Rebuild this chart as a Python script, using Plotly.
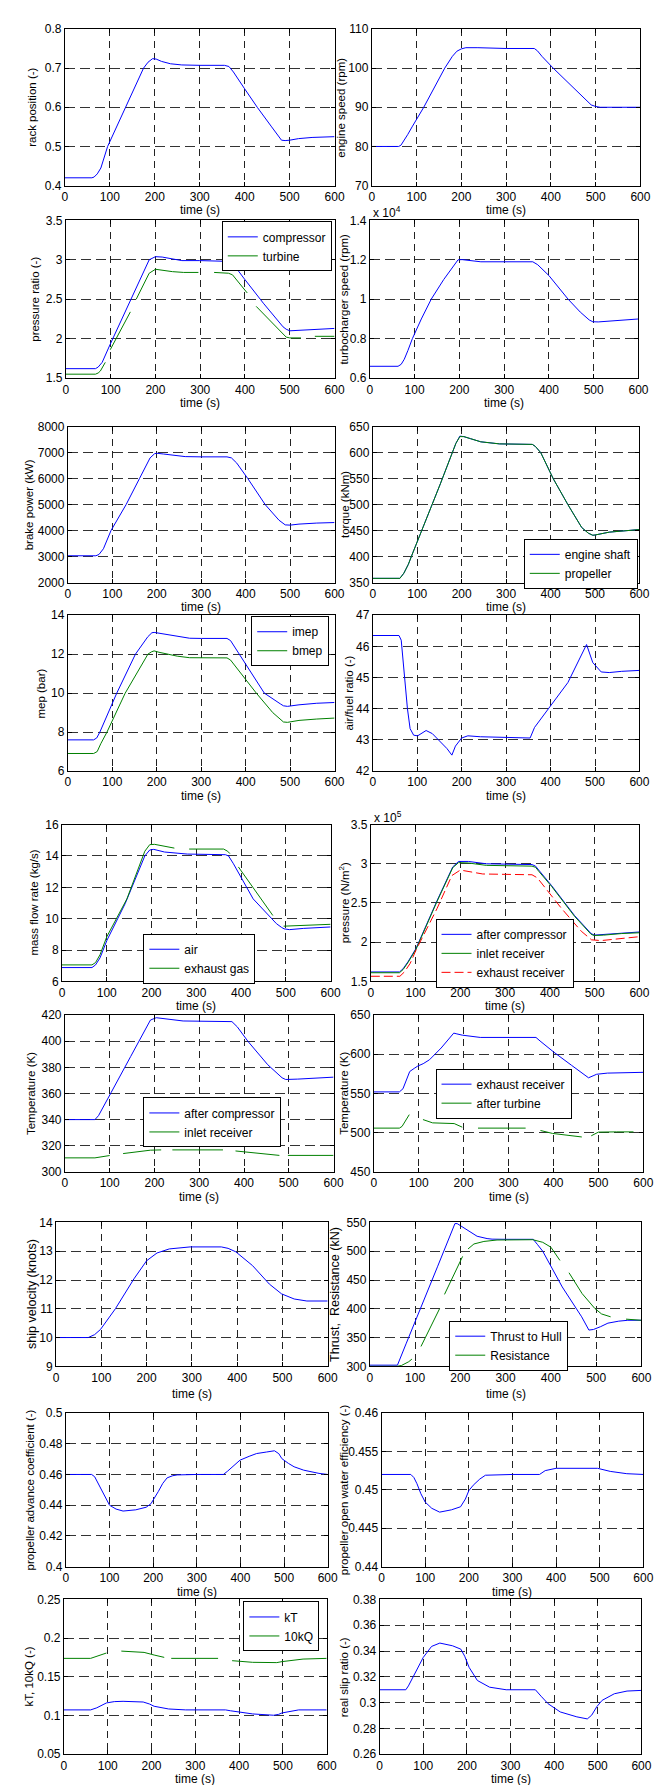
import plotly.graph_objects as go

W, H = 664, 1785
FONT = "Liberation Sans, Arial, sans-serif"
BLUE, GREEN, RED = "#0000ff", "#008000", "#ff0000"
N = None

# ---------------- data ----------------
t_rack = [0,60,65,72,80,95,135,175,185,195,203,215,235,260,300,355,365,375,400,428,460,482,490,500,520,550,600]
rack = [0.42,0.42,0.422,0.43,0.445,0.50,0.60,0.70,0.715,0.724,0.723,0.717,0.711,0.708,0.707,0.707,0.704,0.69,0.647,0.60,0.55,0.516,0.515,0.516,0.52,0.523,0.525]

t_rpm = [0,60,65,72,80,90,116,163,180,190,200,210,237,300,363,370,380,405,450,480,490,500,510,600]
rpm = [80,80,80.3,81.5,83,85,90,100,103,104.3,104.9,105.2,105.2,105,105,104.4,103,100,95,91.5,90.6,90.2,90,90]

t_prc = [0,66,72,81,99,146,186,200,215,259,299,365,372,397,441,485,492,500,520,560,600]
pr_comp = [1.62,1.62,1.64,1.70,1.93,2.51,3.0,3.04,3.035,2.99,2.99,2.98,2.96,2.77,2.45,2.15,2.12,2.10,2.105,2.12,2.13]
t_prt = [0,66,72,77,88,N,99,144,N,157,186,200,238,263,296,N,331,363,372,405,N,425,485,492,500,525,N,556,600]
pr_turb = [1.55,1.55,1.565,1.59,1.70,N,1.86,2.34,N,2.50,2.83,2.88,2.85,2.84,2.84,N,2.84,2.83,2.81,2.58,N,2.41,2.05,2.02,2.01,2.01,N,2.03,2.03]

t_tc = [0,63,70,77,85,95,115,137,165,197,206,225,248,300,364,375,400,443,470,490,498,510,530,560,600]
tc_rpm = [6600,6600,6700,6960,7400,8000,9000,10000,11000,12000,12010,11960,11900,11900,11900,11750,11200,10000,9350,8950,8860,8850,8880,8950,9000]

t_bp = [0,63,70,80,97,131,161,185,195,200,215,240,264,300,358,368,380,405,444,475,489,500,520,560,600]
brake_power = [3030,3030,3080,3300,4000,5000,6000,6800,6960,6980,6950,6890,6850,6840,6840,6800,6600,6000,5000,4400,4220,4210,4250,4290,4310]

t_tq = [0,61,70,80,90,107,132,152,177,187,196,205,220,243,285,359,366,378,406,439,470,485,495,500,532,570,600]
tq_shaft = [358,358,368,385,407,445,497,540,594,618,632,631,627,621,617,616,612,600,550,500,456,445,441,441.5,447,450,452]
tq_prop = [358,358,368,385,407,445,497,540,594,618,631,631,627,621,617,616,612,600,550,500,456,445,441,441.5,447,450,452]

t_mep = [0,58,65,72,110,152,180,189,194,205,246,274,300,358,366,386,442,478,485,494,520,560,600]
imep = [7.6,7.6,7.7,8.0,10.0,12.0,12.9,13.1,13.12,13.08,12.9,12.82,12.81,12.81,12.7,12.0,10.0,9.45,9.35,9.32,9.4,9.48,9.52]
t_bmep = [0,58,66,74,88,129,175,180,188,194,205,246,274,300,358,366,390,424,461,480,485,494,520,560,600]
bmep = [6.9,6.9,7.0,7.4,8.0,10.0,11.8,12.0,12.12,12.17,12.1,11.9,11.82,11.81,11.81,11.7,11.0,10.0,9.0,8.6,8.52,8.5,8.6,8.67,8.72]

t_afr = [0,59,64,68,73,78,84,92,101,110,120,134,150,167,178,186,200,214,242,354,364,392,439,481,495,514,532,560,600]
afr = [46.35,46.35,46.2,45.6,44.8,44.0,43.36,43.15,43.13,43.22,43.3,43.2,42.98,42.72,42.51,42.8,43.06,43.13,43.1,43.06,43.4,43.94,44.84,46.06,45.48,45.18,45.16,45.2,45.23]

t_air = [0,67,75,85,100.6,141,185,196,205,229,280,365,372,383,427,479,490,496,508,540,600]
m_air = [6.88,6.88,7.05,7.5,8.63,10.95,14.0,14.38,14.42,14.25,14.12,14.08,14.0,13.5,11.26,9.68,9.45,9.35,9.3,9.38,9.47]
t_exh = [0,67,75,85,100,145,185,196,207,251,N,284,361,370,375,N,394,471,N,495,540,600]
m_exh = [7.05,7.05,7.2,7.7,8.84,11.26,14.3,14.72,14.74,14.5,N,14.44,14.44,14.3,14.15,N,13.3,10.2,N,9.52,9.57,9.64]

t_pc = [0,64,72,83,101,148,183,196,218,258,360,368,375,404,455,485,492,499,520,560,600]
p_after_comp = [1.62e5,1.62e5,1.66e5,1.75e5,1.92e5,2.53e5,2.96e5,3.03e5,3.03e5,3.0e5,2.99e5,2.97e5,2.92e5,2.72e5,2.34e5,2.15e5,2.11e5,2.09e5,2.10e5,2.12e5,2.13e5]
p_inlet_rec = [1.61e5,1.61e5,1.65e5,1.74e5,1.91e5,2.52e5,2.95e5,3.015e5,3.01e5,2.98e5,2.97e5,2.955e5,2.905e5,2.71e5,2.33e5,2.14e5,2.10e5,2.085e5,2.09e5,2.11e5,2.12e5]
t_pe = [0,65,75,88,101,148,181,200,250,360,372,382,426,470,493,514,543,600]
p_exh_rec = [1.565e5,1.565e5,1.62e5,1.73e5,1.90e5,2.43e5,2.85e5,2.92e5,2.87e5,2.86e5,2.82e5,2.75e5,2.43e5,2.14e5,2.03e5,2.02e5,2.04e5,2.07e5]

t_Tac = [0,67,75,85,103,147,191,204,264,373,385,409,453,485,493,520,560,600]
T_after_comp = [340,340,343,349,360.6,388.4,416.2,418,415.5,415,411,399.8,382,372,370.7,371,372,372.5]
t_Tir = [0,67,100,N,130,191,215,N,240,353,N,381,479,N,498,600]
T_inlet_rec = [310.7,310.7,312.5,N,314,316.6,316.8,N,316.8,316.8,N,316,312.6,N,312.6,312.6]

t_Ter = [0,57,65,72,80,90,98,110,124,150,178,185,197,237,361,370,401,440,478,490,496,520,560,600]
T_exh_rec = [552,552,556,567,578,582,585,588,593,608,627,626,624.4,621.5,621.5,617,602.6,586,570,573,574.5,576,576.5,577]
t_Tat = [0,57,63,70,79,N,109.5,131,179,190,197,N,232,338,N,371,398,463,N,484,500,540,578]
T_after_turb = [505.8,505.8,508,515,523,N,516.7,512.5,511.6,509,507,N,505.8,505.8,N,502.8,499,494.5,N,496,500.7,501,501]

t_v = [0,71,85,98,131,172,200,223,250,296,365,380,397,434,471,498,526,554,600]
ship_v = [10,10,10.1,10.28,11.0,12.04,12.67,12.94,13.08,13.15,13.15,13.1,12.98,12.5,11.86,11.52,11.34,11.27,11.27]

t_th = [0,61,80,100,120,150,188,193,201,223,237,259,270,300,361,370,382,425,468,484,494,510,526,550,570,600]
thrust = [302,302,339,377,416,474,548,548,544,533,526,522,521,520.7,520.7,512,500,438,386,363,364,369,375,378.5,380,380]
t_rs = [0,60,70,78,86,93,N,113,154,N,165,205,N,217,230,252,281,360,382,400,420,N,440,469,497,512,532,N,566,600]
resistance = [300,300,301.5,304.6,308,312.6,N,334.5,400,N,425,491,N,504,512.6,517,519.5,520,515.5,507,484,N,462.6,426.4,400.6,391,386,N,382,380]

t_J = [0,59,66,74,83,100,115,131,160,184,195,203,212,222,232,245,255,300,361,370,380,399,420,437,460,478,488,495,510,523,545,562,580,600]
adv_coef = [0.46,0.46,0.4585,0.454,0.4485,0.44,0.4375,0.4362,0.437,0.4387,0.441,0.4445,0.449,0.4542,0.4578,0.4592,0.4597,0.46,0.46,0.462,0.4645,0.4693,0.4718,0.4736,0.4746,0.4754,0.4735,0.4703,0.4672,0.465,0.4628,0.4617,0.4607,0.46]

t_eta = [0,67,74,81,90,100,115,133,160,181,192,200,210,225,238,300,362,375,400,495,524,562,600]
eta_o = [0.452,0.452,0.4516,0.4508,0.4495,0.4484,0.4476,0.4471,0.4474,0.4478,0.4488,0.4499,0.4506,0.4514,0.4519,0.452,0.452,0.4525,0.4528,0.4528,0.4524,0.4521,0.452]

t_kT = [0,61,75,97,115,135,181,195,206,239,278,369,380,398,431,479,490,498,515,536,600]
kT = [0.1073,0.1073,0.110,0.1163,0.118,0.1184,0.1175,0.115,0.112,0.1085,0.1073,0.1073,0.1062,0.1047,0.1021,0.1004,0.1015,0.1034,0.1055,0.1073,0.1073]
t_kQ = [0,61,97,N,131,183,206,229,N,245,352,N,384,431,486,498,546,600]
kQ10 = [0.1739,0.1739,0.1808,N,0.1833,0.1816,0.1782,0.1752,N,0.1739,0.1739,N,0.1709,0.1688,0.1684,0.1697,0.173,0.1739]

t_s = [0,60,66,76,88,100,119,138,167,186,195,205,224,252,290,357,370,386,414,452,476,486,498,510,538,567,600]
slip = [0.31,0.31,0.313,0.3197,0.328,0.3351,0.3436,0.3462,0.3441,0.3415,0.336,0.3274,0.3172,0.312,0.31,0.31,0.305,0.2992,0.2928,0.289,0.2874,0.2903,0.297,0.3018,0.3069,0.309,0.3095]

x_ticks = [0, 100, 200, 300, 400, 500, 600]

# y axes: (range, tick values, tick labels)
y_specs = {
    1: ([0.4, 0.8], [0.4, 0.5, 0.6, 0.7, 0.8], ["0.4", "0.5", "0.6", "0.7", "0.8"]),
    2: ([70, 110], [70, 80, 90, 100, 110], ["70", "80", "90", "100", "110"]),
    3: ([1.5, 3.5], [1.5, 2, 2.5, 3, 3.5], ["1.5", "2", "2.5", "3", "3.5"]),
    4: ([0.6, 1.4], [0.6, 0.8, 1.0, 1.2, 1.4], ["0.6", "0.8", "1", "1.2", "1.4"]),
    5: ([2000, 8000], [2000, 3000, 4000, 5000, 6000, 7000, 8000], ["2000", "3000", "4000", "5000", "6000", "7000", "8000"]),
    6: ([350, 650], [350, 400, 450, 500, 550, 600, 650], ["350", "400", "450", "500", "550", "600", "650"]),
    7: ([6, 14], [6, 8, 10, 12, 14], ["6", "8", "10", "12", "14"]),
    8: ([42, 47], [42, 43, 44, 45, 46, 47], ["42", "43", "44", "45", "46", "47"]),
    9: ([6, 16], [6, 8, 10, 12, 14, 16], ["6", "8", "10", "12", "14", "16"]),
    10: ([1.5, 3.5], [1.5, 2, 2.5, 3, 3.5], ["1.5", "2", "2.5", "3", "3.5"]),
    11: ([300, 420], [300, 320, 340, 360, 380, 400, 420], ["300", "320", "340", "360", "380", "400", "420"]),
    12: ([450, 650], [450, 500, 550, 600, 650], ["450", "500", "550", "600", "650"]),
    13: ([9, 14], [9, 10, 11, 12, 13, 14], ["9", "10", "11", "12", "13", "14"]),
    14: ([300, 550], [300, 350, 400, 450, 500, 550], ["300", "350", "400", "450", "500", "550"]),
    15: ([0.4, 0.5], [0.4, 0.42, 0.44, 0.46, 0.48, 0.5], ["0.4", "0.42", "0.44", "0.46", "0.48", "0.5"]),
    16: ([0.44, 0.46], [0.44, 0.445, 0.45, 0.455, 0.46], ["0.44", "0.445", "0.45", "0.455", "0.46"]),
    17: ([0.05, 0.25], [0.05, 0.1, 0.15, 0.2, 0.25], ["0.05", "0.1", "0.15", "0.2", "0.25"]),
    18: ([0.26, 0.38], [0.26, 0.28, 0.3, 0.32, 0.34, 0.36, 0.38], ["0.26", "0.28", "0.3", "0.32", "0.34", "0.36", "0.38"]),
}

y_titles = {
    1: "rack position (-)", 2: "engine speed (rpm)", 3: "pressure ratio (-)", 4: "turbocharger speed (rpm)",
    5: "brake power (kW)", 6: "torque (kNm)", 7: "mep (bar)", 8: "air/fuel ratio (-)",
    9: "mass flow rate (kg/s)", 10: "pressure (N/m<sup>2</sup>)", 11: "Temperature (K)", 12: "Temperature (K)",
    13: "ship velocity (knots)", 14: "Thrust,  Resistance (kN)", 15: "propeller advance coefficient (-)",
    16: "propeller open water efficiency (-)", 17: "kT, 10kQ (-)", 18: "real slip ratio (-)",
}

# ---------------- layout geometry (pixels) ----------------
boxes = {
    1: (55, 330, 14, 172), 2: (368, 642, 14, 172),
    3: (56, 330, 207, 366), 4: (366, 640, 207, 366),
    5: (58, 330, 415, 572), 6: (369, 641, 415, 572),
    7: (58, 330, 605, 762), 8: (369, 641, 605, 762),
    9: (52, 326, 816, 974), 10: (367, 641, 816, 974),
    11: (55, 329, 1008, 1166), 12: (370, 645, 1008, 1166),
    13: (46, 323, 1217, 1362), 14: (366, 643, 1217, 1362),
    15: (56, 323, 1409, 1564), 16: (378, 645, 1409, 1564),
    17: (54, 322, 1597, 1753), 18: (376, 643, 1597, 1753),
}
ytitle_x = {1: 22, 2: 337, 3: 25, 4: 340, 5: 18, 6: 340, 7: 31, 8: 345, 9: 23, 10: 340,
            11: 21, 12: 340, 13: 22, 14: 331, 15: 19, 16: 339, 17: 18, 18: 339}
ytitle_size = {13: 12.5, 14: 12.5}


def px(x):
    return x / W


def py(y):
    return 1 - y / H


fig = go.Figure()


def ax_names(p):
    return ("x", "y") if p == 1 else (f"x{p}", f"y{p}")


def add(p, x, y, color, name=None, legend="legend", dash="solid"):
    xa, ya = ax_names(p)
    fig.add_trace(go.Scatter(
        x=x, y=y, mode="lines", xaxis=xa, yaxis=ya, name=name,
        showlegend=name is not None, legend=legend, connectgaps=False,
        line=dict(color=color, width=1, dash=dash)))


add(1, t_rack, rack, BLUE)
add(2, t_rpm, rpm, BLUE)
add(3, t_prc, pr_comp, BLUE, "compressor", "legend")
add(3, t_prt, pr_turb, GREEN, "turbine", "legend")
add(4, t_tc, [v / 1e4 for v in tc_rpm], BLUE)
add(5, t_bp, brake_power, BLUE)
add(6, t_tq, tq_shaft, BLUE, "engine shaft", "legend2")
add(6, t_tq, tq_prop, GREEN, "propeller", "legend2")
add(7, t_mep, imep, BLUE, "imep", "legend3")
add(7, t_bmep, bmep, GREEN, "bmep", "legend3")
add(8, t_afr, afr, BLUE)
add(9, t_air, m_air, BLUE, "air", "legend4")
add(9, t_exh, m_exh, GREEN, "exhaust gas", "legend4")


def sc5(arr):
    return [v / 1e5 for v in arr]


add(10, t_pc, sc5(p_after_comp), BLUE, "after compressor", "legend5")
add(10, t_pc, sc5(p_inlet_rec), GREEN, "inlet receiver", "legend5")
add(10, t_pe, sc5(p_exh_rec), RED, "exhaust receiver", "legend5", dash="9px,4px")
add(11, t_Tac, T_after_comp, BLUE, "after compressor", "legend6")
add(11, t_Tir, T_inlet_rec, GREEN, "inlet receiver", "legend6")
add(12, t_Ter, T_exh_rec, BLUE, "exhaust receiver", "legend7")
add(12, t_Tat, T_after_turb, GREEN, "after turbine", "legend7")
add(13, t_v, ship_v, BLUE)
add(14, t_th, thrust, BLUE, "Thrust to Hull", "legend8")
add(14, t_rs, resistance, GREEN, "Resistance", "legend8")
add(15, t_J, adv_coef, BLUE)
add(16, t_eta, eta_o, BLUE)
add(17, t_kT, kT, BLUE, "kT", "legend9")
add(17, t_kQ, kQ10, GREEN, "10kQ", "legend9")
add(18, t_s, slip, BLUE)

tickfont = dict(size=12, family=FONT, color="black")
layout = dict(width=W, height=H, margin=dict(l=0, r=0, t=0, b=0),
              paper_bgcolor="white", plot_bgcolor="white", font=dict(family=FONT, size=12, color="black"),
              showlegend=True)

annotations = []
for p, (x0, x1, y0, y1) in boxes.items():
    sfx = "" if p == 1 else str(p)
    rng, tv, tt = y_specs[p]
    layout["xaxis" + sfx] = dict(
        domain=[px(x0), px(x1)], anchor="y" + sfx, range=[0, 600], tickvals=x_ticks,
        ticktext=[str(v) for v in x_ticks], showline=True, linecolor="black", linewidth=1,
        mirror="ticks", ticks="inside", ticklen=4, tickcolor="black", showgrid=True,
        gridcolor="#222", gridwidth=1, griddash="7px,5px", zeroline=False, tickfont=tickfont)
    layout["yaxis" + sfx] = dict(
        domain=[py(y1), py(y0)], anchor="x" + sfx, range=rng, tickvals=tv, ticktext=tt,
        showline=True, linecolor="black", linewidth=1, mirror="ticks", ticks="inside",
        ticklen=4, tickcolor="black", showgrid=True, gridcolor="#333", gridwidth=1,
        griddash="10px,5px", zeroline=False, tickfont=tickfont)
    row = (p - 1) // 2
    off = 28 if row == 6 else 25
    annotations.append(dict(text="time (s)", x=px((x0 + x1) / 2), y=py(y1 + off), xref="paper",
                            yref="paper", showarrow=False, xanchor="center", yanchor="middle",
                            font=dict(size=12, family=FONT, color="black")))
    annotations.append(dict(text=y_titles[p], x=px(ytitle_x[p]), y=py((y0 + y1) / 2), xref="paper",
                            yref="paper", showarrow=False, xanchor="center", yanchor="middle",
                            textangle=-90,
                            font=dict(size=ytitle_size.get(p, 11.5), family=FONT, color="black")))

annotations.append(dict(text="x 10<sup>4</sup>", x=px(367), y=py(199), xref="paper", yref="paper",
                        showarrow=False, xanchor="left", yanchor="middle",
                        font=dict(size=12, family=FONT, color="black")))
annotations.append(dict(text="x 10<sup>5</sup>", x=px(368), y=py(808), xref="paper", yref="paper",
                        showarrow=False, xanchor="left", yanchor="middle",
                        font=dict(size=12, family=FONT, color="black")))
layout["annotations"] = annotations


def leg(xp, yp):
    return dict(x=px(xp), y=py(yp), xanchor="left", yanchor="top", xref="paper", yref="paper",
                bgcolor="white", bordercolor="black", borderwidth=1, tracegroupgap=0,
                font=dict(size=12, family=FONT, color="black"))


layout["legend"] = leg(215, 208)
layout["legend2"] = leg(523, 528)
layout["legend3"] = leg(245, 606)
layout["legend4"] = leg(135, 926)
layout["legend5"] = leg(433, 911)
layout["legend6"] = leg(135, 1091)
layout["legend7"] = leg(433, 1062)
layout["legend8"] = leg(447, 1316)
layout["legend9"] = leg(237, 1599)

fig.update_layout(**layout)
fig.write_html("out.html")
